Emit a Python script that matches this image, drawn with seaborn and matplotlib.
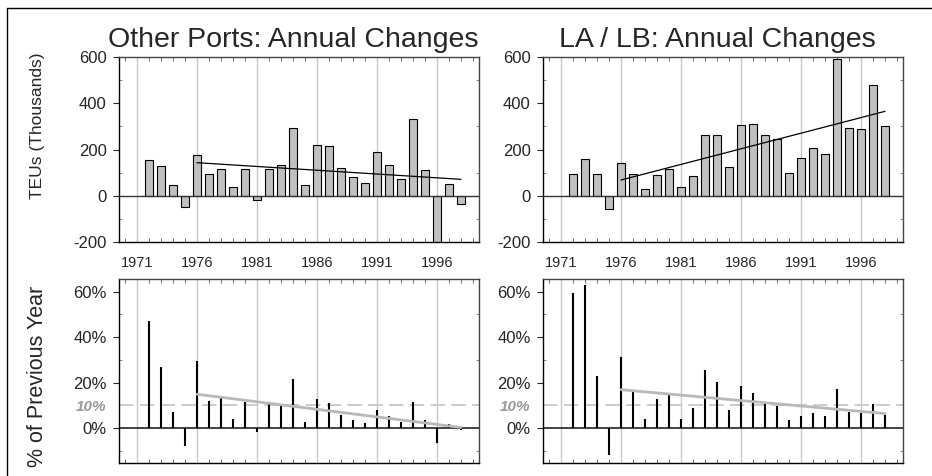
"""Container port annual changes: Other Ports vs LA / LB (TEUs and % change)."""
import numpy as np
import pandas as pd
import matplotlib.pyplot as plt
import seaborn as sns
from matplotlib.lines import Line2D
from matplotlib.ticker import MultipleLocator

sns.set_style("white")
plt.rcParams["font.family"] = ["Liberation Sans", "DejaVu Sans"]
plt.rcParams["axes.unicode_minus"] = False

YEARS = list(range(1972, 1999))

# annual change in TEUs (thousands)
OTHER_TEU = [154, 128, 45, -49, 177, 93, 114, 38, 117, -20, 116, 133, 293, 46,
             220, 216, 122, 81, 57, 188, 132, 71, 330, 113, -210, 52, -35]
LALB_TEU = [94, 159, 94, -59, 141, 94, 28, 90, 117, 38, 85, 262, 262, 125,
            307, 310, 262, 246, 97, 165, 206, 181, 593, 294, 290, 481, 303]

# change as % of previous year
OTHER_PCT = [47.1, 26.7, 7.2, -7.7, 29.6, 12.0, 13.2, 3.9, 11.4, -1.9, 10.4, 10.7,
             21.4, 2.8, 12.9, 11.2, 5.7, 3.5, 2.3, 7.8, 5.2, 2.5, 11.7, 3.6, -6.3,
             1.7, -1.0]
LALB_PCT = [59.3, 63.0, 22.9, -11.9, 31.4, 15.8, 4.1, 12.9, 14.6, 4.1, 9.0, 25.4,
            20.3, 8.0, 18.3, 15.5, 10.7, 9.6, 3.5, 5.5, 6.7, 5.5, 17.2, 7.2, 6.8,
            10.4, 5.9]

# trend lines (start / end)
TREND_YEARS = [1976, 1998]
OTHER_TEU_TREND = [143, 71]
LALB_TEU_TREND = [68, 365]
OTHER_PCT_TREND = [14.9, 0.3]
LALB_PCT_TREND = [16.9, 6.4]

TITLES = ["Other Ports: Annual Changes", "LA / LB: Annual Changes"]
GRID_YEARS = [1971, 1976, 1981, 1986, 1991, 1996]

W, H = 932, 476
fig = plt.figure(figsize=(W / 100, H / 100), dpi=100)


def px_box(x0, y0, x1, y1):
    return [x0 / W, 1 - y1 / H, (x1 - x0) / W, (y1 - y0) / H]


def style_axes(ax, ylim, minor):
    ax.set_xlim(1969.5, 1999.5)
    ax.set_ylim(*ylim)
    for y in GRID_YEARS:
        ax.axvline(y, color="#c8c8c8", lw=1, zorder=0)
    ax.xaxis.set_minor_locator(MultipleLocator(1))
    ax.yaxis.set_minor_locator(MultipleLocator(minor))
    ax.tick_params(axis="x", which="both", direction="in", length=0, top=True, bottom=True)
    ax.tick_params(axis="x", which="minor", length=3, color="#555555")
    ax.tick_params(axis="y", which="major", direction="out", length=4, width=0.8,
                   labelsize=12, pad=5, left=True, right=False)
    ax.tick_params(axis="y", which="minor", direction="in", length=2.5,
                   color="#777777", left=True, right=True)
    for side, sp in ax.spines.items():
        sp.set_visible(True)
        sp.set_linewidth(1.0)
        sp.set_color("black" if side in ("left", "bottom") else "#444444")
    ax.set_xlabel("")
    ax.set_ylabel("")


def teu_panel(ax, values, trend, title):
    df = pd.DataFrame({"year": YEARS, "teu": values})
    sns.barplot(data=df, x="year", y="teu", native_scale=True, width=0.64,
                color="#c0c0c0", saturation=1, edgecolor="black", linewidth=0.8,
                ax=ax, zorder=2)
    ax.axhline(0, color="#333333", lw=1, zorder=3)
    sns.lineplot(x=TREND_YEARS, y=trend, color="black", lw=0.9, ax=ax, zorder=4)
    style_axes(ax, (-200, 600), 100)
    ax.set_yticks([-200, 0, 200, 400, 600])
    ax.set_xticks(GRID_YEARS)
    ax.set_xticklabels([str(y) for y in GRID_YEARS], fontsize=10.5)
    ax.tick_params(axis="x", which="major", pad=10)
    ax.set_title(title, fontsize=20.5, pad=7, x=0.484)


def pct_panel(ax, values, trend):
    ax.vlines(YEARS, 0, values, color="black", lw=1.5, zorder=3)
    ax.axhline(0, color="#222222", lw=1.2, zorder=2)
    ax.axhline(10, color="#c8c8c8", lw=1.3, ls=(0, (8, 3.5)), zorder=1)
    sns.lineplot(x=TREND_YEARS, y=trend, color="#b8b8b8", lw=2, ax=ax, zorder=4)
    style_axes(ax, (-15.3, 65.5), 10)
    ax.set_xticks(GRID_YEARS)
    ax.set_xticklabels([])
    ticks = [0, 10, 20, 40, 60]
    ax.set_yticks(ticks)
    ax.set_yticklabels([f"{t}%" for t in ticks])
    lab = ax.get_yticklabels()[1]
    lab.set_color("#999999")
    lab.set_fontstyle("italic")
    lab.set_fontweight("bold")
    lab.set_fontsize(11)
    ax.yaxis.get_major_ticks()[1].tick1line.set_visible(False)


ax_tl = fig.add_axes(px_box(119, 57, 479, 242))
ax_tr = fig.add_axes(px_box(543, 57, 903, 242))
ax_bl = fig.add_axes(px_box(119, 279, 479, 463))
ax_br = fig.add_axes(px_box(543, 279, 903, 463))

teu_panel(ax_tl, OTHER_TEU, OTHER_TEU_TREND, TITLES[0])
teu_panel(ax_tr, LALB_TEU, LALB_TEU_TREND, TITLES[1])
pct_panel(ax_bl, OTHER_PCT, OTHER_PCT_TREND)
pct_panel(ax_br, LALB_PCT, LALB_PCT_TREND)

fig.text(38 / W, 1 - 126 / H, "TEUs (Thousands)", rotation=90, fontsize=12.5,
         ha="center", va="center")
fig.text(38 / W, 1 - 376 / H, "% of Previous Year", rotation=90, fontsize=15.5,
         ha="center", va="center")

# outer frame (top and left edges)
fig.add_artist(Line2D([7 / W, 1], [1 - 8 / H, 1 - 8 / H], color="black", lw=1))
fig.add_artist(Line2D([7 / W, 7 / W], [0, 1 - 8 / H], color="black", lw=1))

fig.savefig("out.png", dpi=100)
